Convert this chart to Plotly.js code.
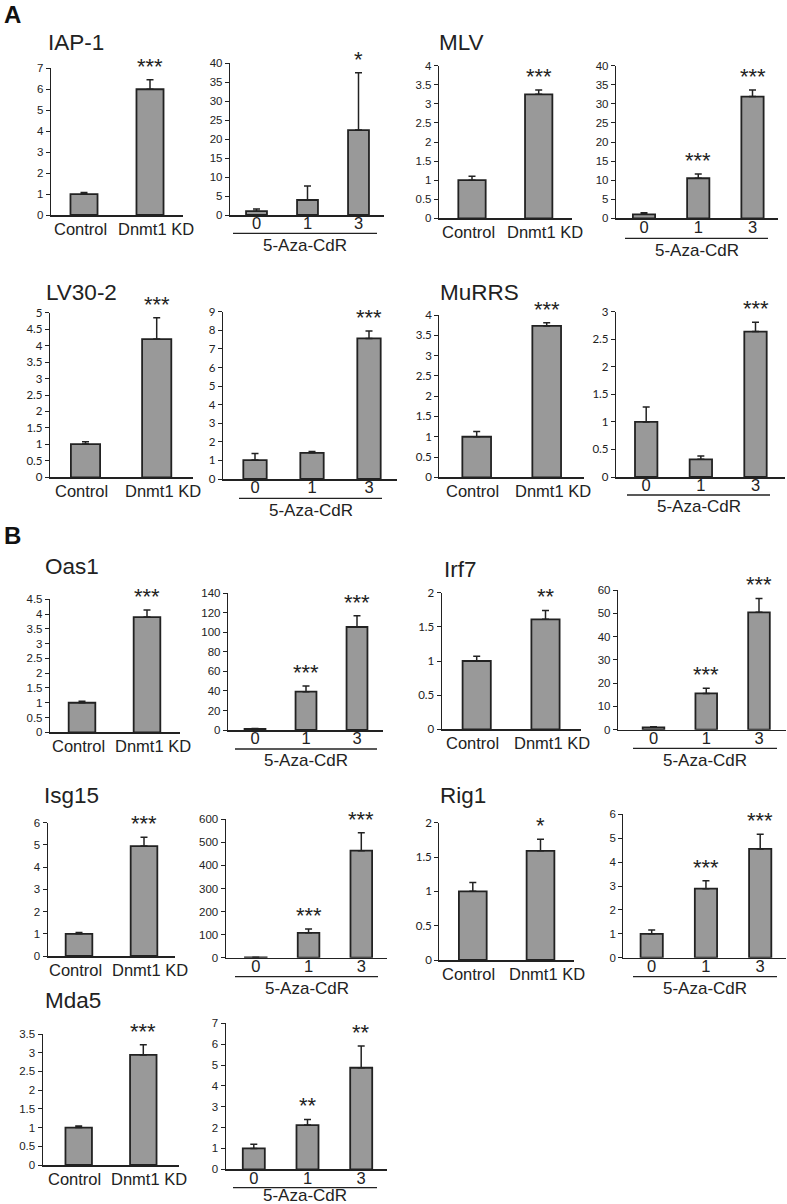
<!DOCTYPE html>
<html>
<head>
<meta charset="utf-8">
<script src="https://cdn.plot.ly/plotly-3.0.1.min.js"></script>
<style>html,body{margin:0;padding:0;background:#fff;}#chart{width:787px;height:1204px;}</style>
</head>
<body>
<div id="chart"></div>
<script>
// ---------- DATA ----------
const genes = ["IAP-1","MLV","LV30-2","MuRRS","Oas1","Irf7","Isg15","Rig1","Mda5"];
const kdCategories = ["Control","Dnmt1 KD"];
const azaCategories = ["0","1","3"];
const azaLabel = "5-Aza-CdR";
const sectionLabels = ["A","B"];

const kdMean = [[1.0,6.0],[1.0,3.25],[1.01,4.2],[1.0,3.73],[1.0,3.9],[1.0,1.61],[1.0,4.95],[1.0,1.59],[1.0,2.94]];
const kdErr  = [[0.07,0.45],[0.1,0.11],[0.07,0.65],[0.13,0.08],[0.05,0.24],[0.07,0.13],[0.06,0.39],[0.13,0.17],[0.04,0.27]];
const kdStars = [["","***"],["","***"],["","***"],["","***"],["","***"],["","**"],["","***"],["","*"],["","***"]];

const azaMean = [[1.0,3.95,22.4],[1.05,10.5,31.9],[1.02,1.41,7.56],[1.0,0.32,2.64],[1.0,39.2,105.5],[1.0,15.6,50.4],[1.0,108,464],[1.0,2.89,4.55],[1.0,2.12,4.87]];
const azaErr  = [[0.6,3.7,15.1],[0.4,1.1,1.7],[0.35,0.07,0.4],[0.27,0.06,0.17],[0.6,5.8,11.5],[0.3,2.2,6.0],[0.5,16,78],[0.16,0.33,0.62],[0.2,0.27,1.04]];
const azaStars = [["","","*"],["","***","***"],["","","***"],["","","***"],["","***","***"],["","***","***"],["","***","***"],["","***","***"],["","**","**"]];

// y-axis scale (max, step) per panel [kd, aza]
const yMax  = [[7,40],[4,40],[5,9],[4,3],[4.5,140],[2,60],[6,600],[2,6],[3.5,7]];
const yStep = [[1,5],[0.5,5],[0.5,1],[0.5,0.5],[0.5,20],[0.5,10],[1,100],[0.5,1],[0.5,1]];

// ---------- LAYOUT GEOMETRY (pixels) ----------
const W = 787, H = 1204;
// [axisLeft, axisRight, firstBarCenter, lastBarCenter, zeroY, topY, tickFontStyle]
const geo = [
  [[51,183,84,150,215,68.3,'a'],       [230,384,256.5,358.5,215,63.3,'a']],
  [[439,572,472,538.7,218.3,65.7,'a'], [616,778,644,752.5,218.3,65.7,'a']],
  [[50,192.5,85.5,156.7,477.3,312.7,'c'], [223,397,255,369,479,311.7,'c']],
  [[439.3,584,476.7,546.7,477.3,315,'c'], [616,785,646.2,755.5,477,311.7,'c']],
  [[50,180,82,147,732.3,599.3,'a'],    [228,383,255,357,730,593.3,'a']],
  [[441.7,580.5,476.7,545.5,729.3,592.7,'c'], [618,786,653.5,759,729.7,590,'a']],
  [[47.7,175,79,144,956,822.7,'a'],    [225.7,387,255.8,361.3,957.7,819.3,'a']],
  [[439.3,574,472.8,540.5,960,822.7,'c'], [623.3,786,651.7,760.2,957.7,814.3,'a']],
  [[42.7,179,78.7,143.3,1165,1034,'a'], [225.7,386.7,253.8,361.2,1169.3,1023.3,'a']]
];
// title positions [x, y]
const titlePos = [[46,43],[437,43],[44,292],[438,292],[43,567],[442,569],[42,795],[438,795],[43,1000]];
// underline [x0, x1, y]
const underline = [[233,377,233.3],[625,768,238.3],[239,382,498.3],[627,770,495],[235,377,749],[633,777,748.3],[235,378,976.7],[633,777,976.7],[233,377,1187.7]];
const sectionPos = [[2,14],[2,535]];
// horizontal nudge (px) of the two group labels relative to their bars
const kdLabelShift = [-4, 6];

const ARIAL = '"Liberation Sans", Arial, sans-serif';
const CALI = 'Lato, "Open Sans", sans-serif';
const INK = '#222';

const traces = [];
const layout = {
  width: W, height: H, autosize: false,
  margin: {l:0, r:0, t:0, b:0, pad:0},
  paper_bgcolor: '#fff', plot_bgcolor: 'rgba(0,0,0,0)',
  showlegend: false,
  font: {family: ARIAL, color: INK},
  annotations: [], shapes: []
};

function addPanel(n, cats, vals, errs, stars, g, ymax, step, isKD) {
  const ax = n === 1 ? '' : String(n);
  const [L, R, c0, cL, y0, yt, fs] = g;
  const s = (cL - c0) / (cats.length - 1);
  traces.push({
    type: 'bar', x: cats, y: vals, xaxis: 'x' + ax, yaxis: 'y' + ax,
    width: 0.41,
    marker: {color: '#999999', line: {color: INK, width: 1.8}},
    error_y: {type: 'data', symmetric: false, array: errs, arrayminus: vals.map(() => 0),
              color: INK, thickness: 1.5, width: 3.5},
    hoverinfo: 'none', cliponaxis: false
  });
  layout['xaxis' + ax] = {
    domain: [L / W, R / W], type: 'category', range: [(L - c0) / s, (R - c0) / s],
    anchor: 'y' + ax, showline: true, linecolor: INK, linewidth: 1.5,
    ticks: '', showgrid: false, zeroline: false, fixedrange: true,
    tickangle: 0, automargin: false, showticklabels: !isKD,
    tickfont: {family: ARIAL, size: 16.5, color: INK},
    ticklabelstandoff: -7
  };
  layout['yaxis' + ax] = {
    domain: [1 - y0 / H, 1 - yt / H], range: [0, ymax], tick0: 0, dtick: step,
    anchor: 'x' + ax, showline: true, linecolor: INK, linewidth: 1.2,
    ticks: 'outside', ticklen: 4, tickcolor: INK, tickwidth: 1,
    showgrid: false, zeroline: false, fixedrange: true, automargin: false,
    tickfont: fs === 'c' ? {family: CALI, size: 11.5, color: INK} : {family: ARIAL, size: 11.5, color: INK}
  };
  if (isKD) {
    cats.forEach((c, j) => {
      layout.annotations.push({
        xref: 'x' + ax, yref: 'y' + ax, x: j, y: 0, yshift: -13.5, xshift: kdLabelShift[j],
        text: c, showarrow: false, xanchor: 'center', yanchor: 'middle',
        font: {family: ARIAL, size: 16.5, color: INK}
      });
    });
  }
  stars.forEach((st, j) => {
    if (!st) return;
    layout.annotations.push({
      xref: 'x' + ax, yref: 'y' + ax, x: j, y: vals[j] + errs[j],
      text: st, showarrow: false, xanchor: 'center', yanchor: 'bottom', yshift: -1,
      font: {family: ARIAL, size: 22, color: INK}
    });
  });
}

genes.forEach((gname, i) => {
  addPanel(2 * i + 1, kdCategories, kdMean[i], kdErr[i], kdStars[i], geo[i][0], yMax[i][0], yStep[i][0], true);
  addPanel(2 * i + 2, azaCategories, azaMean[i], azaErr[i], azaStars[i], geo[i][1], yMax[i][1], yStep[i][1], false);
  layout.annotations.push({
    xref: 'paper', yref: 'paper', x: titlePos[i][0] / W, y: 1 - titlePos[i][1] / H,
    xanchor: 'left', yanchor: 'middle', text: gname, showarrow: false,
    font: {family: ARIAL, size: 22.5, color: INK}
  });
  const u = underline[i];
  layout.shapes.push({
    type: 'line', xref: 'paper', yref: 'paper',
    x0: u[0] / W, x1: u[1] / W, y0: 1 - u[2] / H, y1: 1 - u[2] / H,
    line: {color: INK, width: 1.3}
  });
  const ly = Math.min(u[2] + 12, H - 9);
  layout.annotations.push({
    xref: 'paper', yref: 'paper', x: (u[0] + u[1]) / 2 / W, y: 1 - ly / H,
    xanchor: 'center', yanchor: 'middle', text: azaLabel, showarrow: false,
    font: {family: ARIAL, size: 17, color: INK}
  });
});

sectionLabels.forEach((lab, k) => {
  layout.annotations.push({
    xref: 'paper', yref: 'paper', x: sectionPos[k][0] / W, y: 1 - sectionPos[k][1] / H,
    xanchor: 'left', yanchor: 'middle', text: '<b>' + lab + '</b>', showarrow: false,
    font: {family: ARIAL, size: 24, color: '#111'}
  });
});

Plotly.newPlot('chart', traces, layout, {displayModeBar: false, staticPlot: true});
</script>
</body>
</html>
